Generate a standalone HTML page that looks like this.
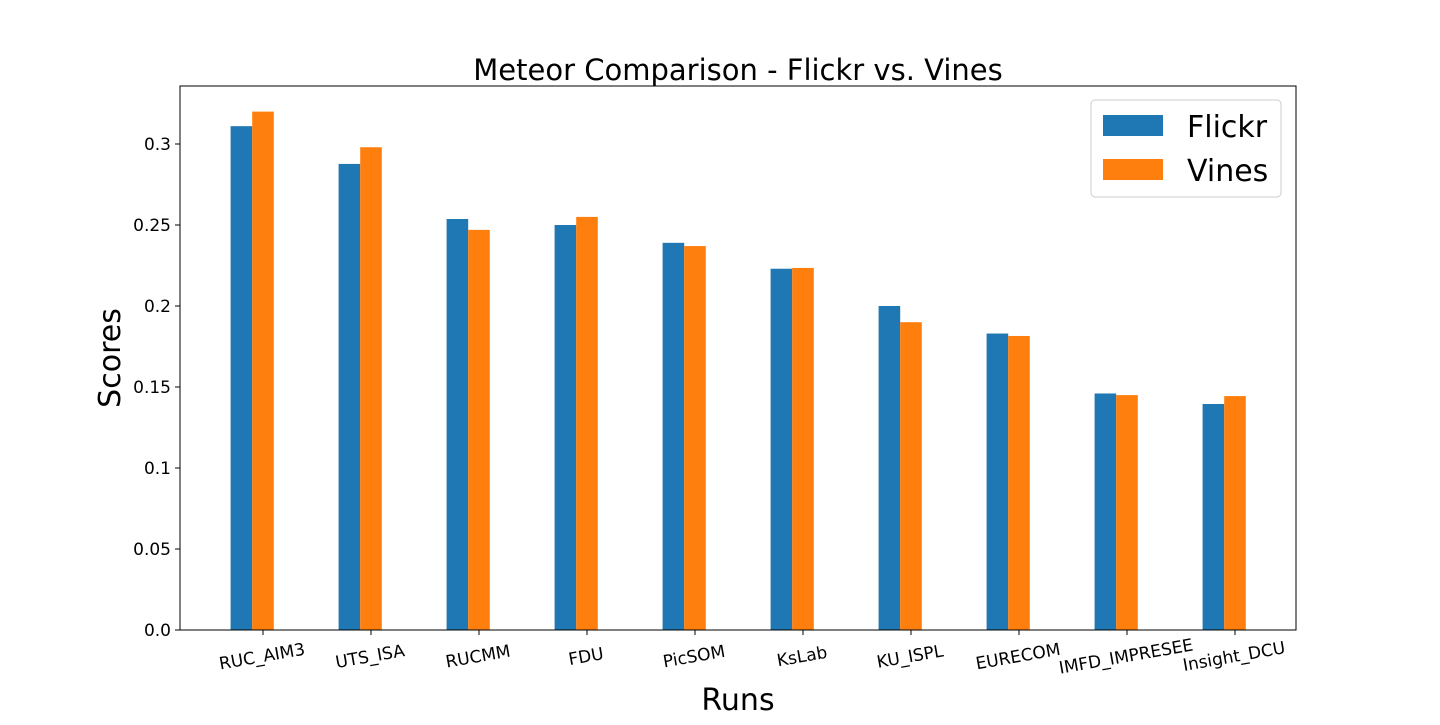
<!DOCTYPE html>
<html><head><meta charset="utf-8"><style>
body{margin:0;background:#fff}
text{font-family:"DejaVu Sans","Liberation Sans",sans-serif;fill:#000}
</style></head><body>
<svg id="chart" width="1440" height="720" viewBox="0 0 1440 720" xmlns="http://www.w3.org/2000/svg">
<text x="738" y="80" font-size="29" text-anchor="middle">Meteor Comparison - Flickr vs. Vines</text>
<g id="bars"></g>
<g id="yticks"></g>
<g id="xticks"></g>
<rect x="180" y="86" width="1116" height="544" fill="none" stroke="#000" stroke-width="1"/>
<text transform="translate(120,358) rotate(-90)" font-size="30" text-anchor="middle">Scores</text>
<text x="738" y="710" font-size="30" text-anchor="middle">Runs</text>
<g>
<rect x="1091" y="100" width="190" height="97" rx="4" fill="#fff" stroke="#ccc"/>
<rect x="1103" y="115" width="60" height="21" fill="#1f77b4"/>
<text x="1187" y="137" font-size="30">Flickr</text>
<rect x="1103" y="159" width="60" height="21" fill="#ff7f0e"/>
<text x="1187" y="181" font-size="30">Vines</text>
</g>
</svg>
<script>
const categories=["RUC_AIM3","UTS_ISA","RUCMM","FDU","PicSOM","KsLab","KU_ISPL","EURECOM","IMFD_IMPRESEE","Insight_DCU"];
const flickr=[0.311,0.2877,0.2537,0.250,0.239,0.223,0.200,0.183,0.146,0.1395];
const vines=[0.320,0.298,0.247,0.255,0.237,0.2235,0.190,0.1815,0.145,0.1444];
const yTicks=[0,0.05,0.1,0.15,0.2,0.25,0.3];
const yTickLabels=["0.0","0.05","0.1","0.15","0.2","0.25","0.3"];
const NS="http://www.w3.org/2000/svg";
const y=v=>630-v*1620;
const x=i=>263+108*i;
const bw=21.6;
const bars=document.getElementById('bars'),yt=document.getElementById('yticks'),xt=document.getElementById('xticks');
function mk(tag,attrs){const e=document.createElementNS(NS,tag);for(const k in attrs)e.setAttribute(k,attrs[k]);return e;}
categories.forEach((c,i)=>{
 const b1=mk('rect',{x:x(i)-1.5*bw,y:y(flickr[i]),width:bw,height:630-y(flickr[i]),fill:'#1f77b4'});
 
 
 bars.appendChild(b1);
 const b2=mk('rect',{x:x(i)-0.5*bw,y:y(vines[i]),width:bw,height:630-y(vines[i]),fill:'#ff7f0e'});
 
 
 bars.appendChild(b2);
 const t=mk('line',{x1:x(i),x2:x(i),y1:630,y2:635,stroke:'#000'});
 
 
 xt.appendChild(t);
 const l=mk('text',{transform:`translate(${x(i)},662) rotate(-10)`,'font-size':'17','text-anchor':'middle'});
 
 
 l.textContent=c;xt.appendChild(l);
});
yTicks.forEach((v,i)=>{
 const t=mk('line',{x1:175,x2:180,y1:y(v),y2:y(v),stroke:'#000'});
 
 
 yt.appendChild(t);
 const l=mk('text',{x:171,y:y(v)+6,'font-size':'17','text-anchor':'end'});
 
 
 l.textContent=yTickLabels[i];yt.appendChild(l);
});
</script>
</body></html>
